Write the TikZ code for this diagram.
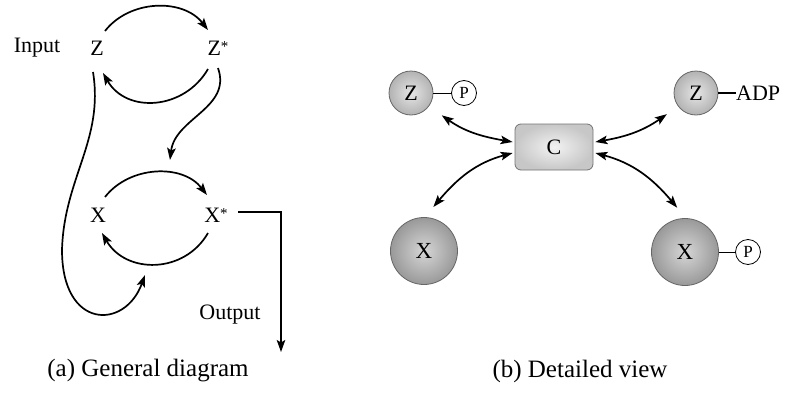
\documentclass[tikz,border=0pt]{standalone}
\usepackage{fontspec}
\setmainfont{Liberation Serif}
\usetikzlibrary{arrows.meta,shapes.geometric}
\newcommand{\myast}{\raisebox{4pt}{\fontsize{15}{15}\selectfont *}}
\begin{document}
\begin{tikzpicture}[x=1pt,y=1pt,
  lbl/.style={font=\fontsize{22}{26}\selectfont, inner sep=0pt},
  captxt/.style={font=\fontsize{25}{30}\selectfont, inner sep=0pt},
  conn/.style={line width=1.7pt, -{Stealth[length=12pt,width=8.5pt,inset=2.5pt]}},
  dconn/.style={line width=1.7pt, {Stealth[length=12pt,width=8.5pt,inset=2.5pt]}-{Stealth[length=12pt,width=8.5pt,inset=2.5pt]}},
  zball/.style={circle, draw=black!60, line width=0.8pt, shading=radial, inner color=black!10, outer color=black!30, minimum size=44pt, inner sep=0pt, font=\fontsize{22}{26}\selectfont},
  xball/.style={circle, draw=black!60, line width=0.8pt, shading=radial, inner color=black!16, outer color=black!40, minimum size=67pt, inner sep=0pt, font=\fontsize{23}{27}\selectfont},
  pcirc/.style={circle, draw=black, line width=0.8pt, fill=white, minimum size=25pt, inner sep=0pt, font=\fontsize{17}{17}\selectfont},
  cbox/.style={rectangle, rounded corners=6pt, draw=black!55, line width=0.8pt, shading=radial, inner color=black!5, outer color=black!22, minimum width=78pt, minimum height=46pt, inner sep=0pt, font=\fontsize{22}{26}\selectfont},
  bond/.style={line width=1pt}
]
\useasboundingbox (0,0) rectangle (785,-394);

% ---------- panel (a) ----------
\node[lbl] (inp) at (37,-48) {Input};
\node[lbl] (Z) at (97,-48) {Z};
\node[lbl] (Zs) at (218,-48) {Z\myast};
\node[lbl] (X) at (98,-215) {X};
\node[lbl] (Xs) at (216,-215) {X\myast};
\node[lbl] (outp) at (230,-315) {Output};

\draw[conn] ([shift={(8,17)}]Z.center) to[out=52,in=128] ([shift={(-10,18)}]Zs.center);
\draw[conn] ([shift={(-10,-21)}]Zs.center) to[out=240,in=300,looseness=1.15] ([shift={(6,-25)}]Z.center);

\draw[conn] ([shift={(7,18)}]X.center) to[out=52,in=128] ([shift={(-9,20)}]Xs.center);
\draw[conn] ([shift={(-8,-18)}]Xs.center) to[out=240,in=300,looseness=1.15] ([shift={(4,-18)}]X.center);

\coordinate (cat1) at (145,-275);
\draw[conn] ([shift={(-4,-24)}]Z.center) .. controls (104,-140) and (64,-178) .. (62,-250) .. controls (62,-330) and (125,-330) .. (cat1);

\coordinate (cat2) at (170,-160);
\draw[conn] ([shift={(0,-20)}]Zs.center) .. controls (232,-108) and (175,-118) .. (cat2);

\coordinate (outend) at (281,-352);
\draw[conn] ([shift={(22,3)}]Xs.center) -| (outend);

\node[captxt] (capa) at (148,-371) {(a) General diagram};
\node[captxt] (capb) at (580,-371) {(b) Detailed view};

% ---------- panel (b) ----------
\node[zball] (zb1) at (411,-93) {Z};
\node[pcirc] (p1) at (464,-93) {P};
\draw[bond] (zb1) -- (p1);

\node[zball] (zb2) at (696,-93) {Z};
\node[lbl, anchor=west] (adp) at (736,-93) {ADP};
\draw[bond, line width=1.3pt] (zb2) -- (adp);

\node[cbox] (C) at (554,-147) {C};

\node[xball] (xb1) at (424,-251) {X};
\node[xball] (xb2) at (685,-252) {X};
\node[pcirc] (p2) at (748,-252) {P};
\draw[bond] (xb2) -- (p2);

\draw[dconn] ([shift={(-36:38)}]zb1.center) to[out=-35,in=170] ([shift={(-2,5)}]C.west);
\draw[dconn] ([shift={(-2,-6)}]C.west) to[out=195,in=50] ([shift={(78:45)}]xb1.center);
\draw[dconn] ([shift={(216:36)}]zb2.center) to[out=215,in=10] ([shift={(2,5)}]C.east);
\draw[dconn] ([shift={(2,-6)}]C.east) to[out=-15,in=130] ([shift={(100:45)}]xb2.center);
\end{tikzpicture}
\end{document}
